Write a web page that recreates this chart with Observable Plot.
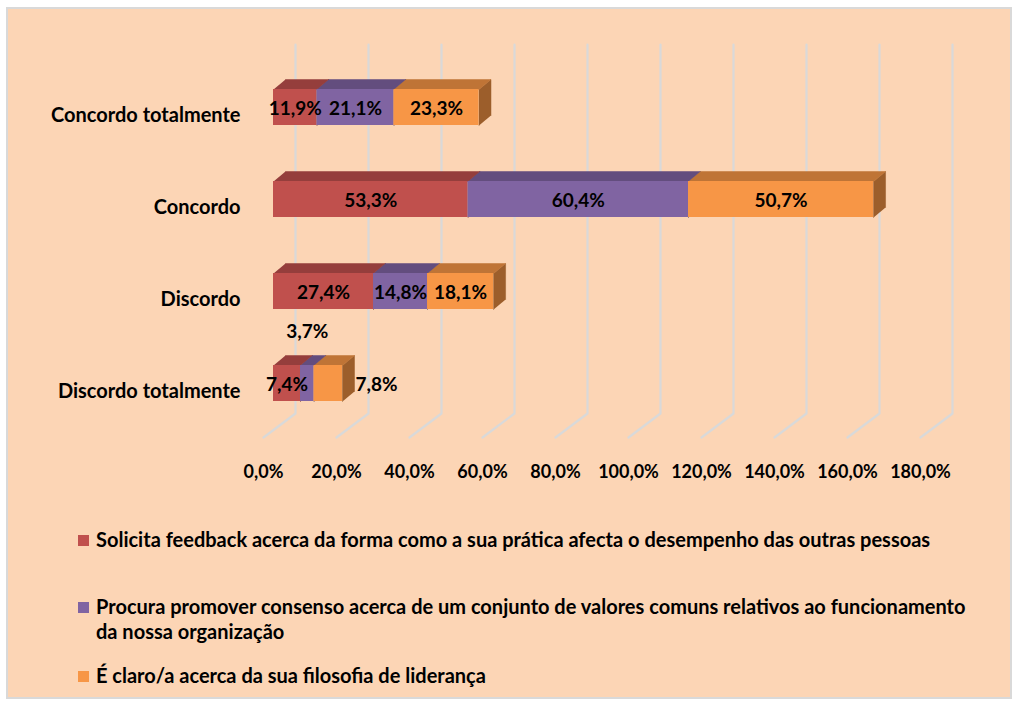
<!DOCTYPE html>
<html>
<head>
<meta charset="utf-8">
<script src="https://cdn.jsdelivr.net/npm/d3@7"></script>
<script src="https://cdn.jsdelivr.net/npm/@observablehq/plot@0.6"></script>
<style>
  html, body { margin: 0; padding: 0; background: #ffffff; width: 1018px; height: 704px; overflow: hidden; }
  #frame { position: absolute; left: 6px; top: 7px; width: 1002px; height: 688px; background: #FCD5B5; border: 2px solid #D9D9D9; }
  #chart { position: absolute; left: 0; top: 0; }
  .legend { position: absolute; left: 0; top: 0; font-family: Lato, "Open Sans", sans-serif; font-weight: bold; font-size: 20px; color: #000; }
  .item { position: absolute; left: 96px; line-height: 25px; white-space: nowrap; }
  .sw { position: absolute; left: 78px; width: 11px; height: 11px; }
</style>
</head>
<body>
<div id="frame"></div>
<div id="chart"></div>
<div class="legend" id="legend"></div>
<script>
// ---- data ----
const categories = ["Concordo totalmente", "Concordo", "Discordo", "Discordo totalmente"];
const seriesNames = [
  "Solicita feedback acerca da forma como a sua prática afecta o desempenho das outras pessoas",
  "Procura promover consenso acerca de um conjunto de valores comuns relativos ao funcionamento da nossa organização",
  "É claro/a acerca da sua filosofia de liderança"
];
const solicita = [11.9, 53.3, 27.4, 7.4];
const procura  = [21.1, 60.4, 14.8, 3.7];
const claro    = [23.3, 50.7, 18.1, 7.8];
const xTicks = [0, 20, 40, 60, 80, 100, 120, 140, 160, 180];

// ---- styling ----
const front = ["#C0504D", "#8064A2", "#F79646"];
const top_  = ["#953E3C", "#634D7E", "#BF7436"];
const side  = ["#7A3230", "#4F3D66", "#9C5E2B"];
const series = [solicita, procura, claro];

const xRange = [273, 273 + 180 * 3.65];
const yRange = [107, 383];
const kx = (xRange[1] - xRange[0]) / (xTicks[xTicks.length - 1] - xTicks[0]);
const ky = (yRange[1] - yRange[0]) / (categories.length - 1);
const dX = 12 / kx, dY = 10 / ky, half = 18 / ky;
const py = p => (p - yRange[0]) / ky; // pixel -> y units

// stacked segments
const segs = [];
categories.forEach((c, i) => {
  let acc = 0;
  series.forEach((s, k) => {
    segs.push({cat: c, i, k, x1: acc, x2: acc + s[i], v: s[i]});
    acc += s[i];
  });
});

const sides = [], tops = [];
segs.forEach((s, n) => {
  const yb = s.i + half, yt = s.i - half;
  [[s.x2, yb], [s.x2, yt], [s.x2 + dX, yt - dY], [s.x2 + dX, yb - dY]]
    .forEach(([x, y]) => sides.push({id: "s" + n, x, y, c: side[s.k]}));
  [[s.x1, yt], [s.x2, yt], [s.x2 + dX, yt - dY], [s.x1 + dX, yt - dY]]
    .forEach(([x, y]) => tops.push({id: "t" + n, x, y, c: top_[s.k]}));
});

// gridlines (back wall + floor)
const grid = [];
xTicks.forEach(v => {
  grid.push({v, x: v + 22 / kx, y: py(44)});
  grid.push({v, x: v + 22 / kx, y: py(413)});
  grid.push({v, x: v - 10 / kx, y: py(437)});
});

const fmt = v => v.toFixed(1).replace(".", ",") + "%";

// label placement tweaks (Excel moved two labels)
const placed = segs.map(s => {
  let dx = 0, dy = 1, anchor = "middle", x = (s.x1 + s.x2) / 2;
  if (s.i === 3 && s.k === 1) { dy = -52; }
  if (s.i === 3 && s.k === 2) { x = s.x2; dx = 13; anchor = "start"; }
  return {...s, lx: x, dx, dy, anchor};
});

const fontFam = "Lato, 'Open Sans', sans-serif";
const textCommon = {fontWeight: "bold", fill: "#000", fontSize: 19};

const chart = Plot.plot({
  width: 1018,
  height: 500,
  margin: 0,
  style: {background: "transparent", fontFamily: fontFam},
  x: {domain: [0, 180], range: xRange, axis: null},
  y: {domain: [0, 3], range: yRange, axis: null},
  color: {type: "identity"},
  marks: [
    Plot.line(grid, {x: "x", y: "y", z: "v", stroke: "#D9D9D9", strokeWidth: 2.2}),
    Plot.line(sides, {x: "x", y: "y", z: "id", fill: "c", stroke: "c", strokeWidth: 0.5}),
    Plot.line(tops, {x: "x", y: "y", z: "id", fill: "c", stroke: "c", strokeWidth: 0.5}),
    Plot.rect(segs, {x1: "x1", x2: "x2", y1: d => d.i - half, y2: d => d.i + half, fill: d => front[d.k]}),
    ...placed.map(p => Plot.text([p], {x: "lx", y: "i", text: d => fmt(d.v), dx: p.dx, dy: p.dy, textAnchor: p.anchor, ...textCommon})),
    Plot.text(categories, {x: () => 0, y: (d, i) => i, text: d => d, dx: -33, dy: 8, textAnchor: "end", ...textCommon, fontSize: 20}),
    Plot.text(xTicks, {x: d => d, y: () => py(472), text: fmt, dx: -10, ...textCommon, fontSize: 18})
  ]
});
document.getElementById("chart").appendChild(chart);

// legend
const legendRows = [
  {k: 0, top: 527, lines: [seriesNames[0]]},
  {k: 1, top: 594, lines: ["Procura promover consenso acerca de um conjunto de valores comuns relativos ao funcionamento", "da nossa organização"]},
  {k: 2, top: 663, lines: [seriesNames[2]]}
];
const lg = document.getElementById("legend");
legendRows.forEach(r => {
  const sw = document.createElement("div");
  sw.className = "sw";
  sw.style.top = (r.top + 8) + "px";
  sw.style.background = front[r.k];
  lg.appendChild(sw);
  const t = document.createElement("div");
  t.className = "item";
  t.style.top = r.top + "px";
  t.innerHTML = r.lines.join("<br>");
  lg.appendChild(t);
});
</script>
</body>
</html>
